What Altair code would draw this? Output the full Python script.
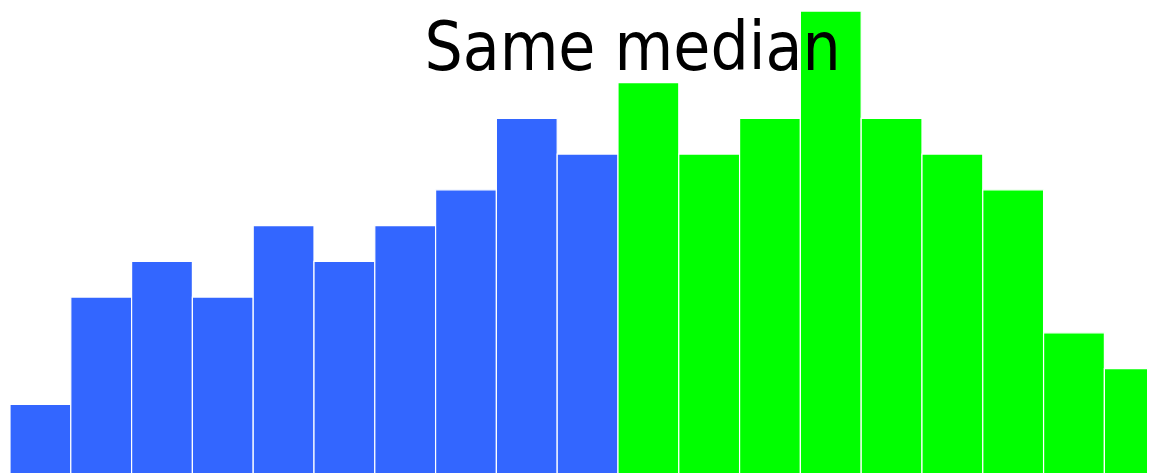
import altair as alt
import pandas as pd

counts = [2, 5, 6, 5, 7, 6, 7, 8, 10, 9, 11, 9, 10, 13, 10, 9, 8, 4, 3]
groups = ["below"] * 10 + ["above"] * 9
group_names = ["below", "above"]
group_colors = ["#3366FF", "#00FF00"]
title_text = "Same median"

df = pd.DataFrame({
    "bin_start": list(range(len(counts))),
    "bin_end": [i + 1 for i in range(len(counts))],
    "count": counts,
    "group": groups,
})

W, H = 1139, 465

bars = alt.Chart(df).mark_rect(stroke="white", strokeWidth=1.2, clip=True).encode(
    x=alt.X("bin_start:Q", axis=None,
            scale=alt.Scale(domain=[-0.0329, 18.701], nice=False, zero=False)),
    x2="bin_end:Q",
    y=alt.Y("count:Q", axis=None,
            scale=alt.Scale(domain=[0.078, 13.085], nice=False, zero=False)),
    y2=alt.datum(0),
    color=alt.Color("group:N", legend=None,
                    scale=alt.Scale(domain=group_names, range=group_colors)),
)

title = alt.Chart(pd.DataFrame({"t": [title_text]})).mark_text(
    font="DejaVu Sans Condensed, Liberation Sans",
    fontSize=67, color="black", align="center", baseline="alphabetic",
).encode(text="t:N", x=alt.value(624.5), y=alt.value(62))

chart = alt.layer(bars, title).properties(
    width=W, height=H, padding=0,
    autosize=alt.AutoSizeParams(type="none"),
).configure_view(stroke=None)

chart.save("out.html", embed_options={"renderer": "svg", "actions": False})
